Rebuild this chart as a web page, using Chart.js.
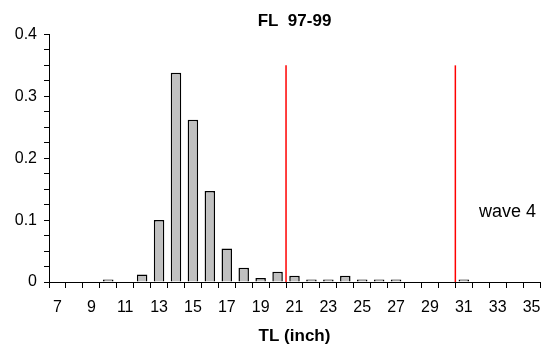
<!DOCTYPE html>
<html>
<head>
<meta charset="utf-8">
<script src="https://cdn.jsdelivr.net/npm/chart.js@4.4.1/dist/chart.umd.min.js"></script>
<style>
  html, body { margin: 0; padding: 0; background: #fff; }
  #wrap { width: 542px; height: 352px; }
</style>
</head>
<body>
<div id="wrap"><canvas id="histChart"></canvas></div>
<script>
const sizeLabels = ['7','8','9','10','11','12','13','14','15','16','17','18','19','20','21',
  '22','23','24','25','26','27','28','29','30','31','32','33','34','35'];
const freqValues = [0,0,0,0.004,0,0.012,0.100,0.338,0.262,0.147,0.054,0.023,0.0065,0.0165,0.010,
  0.004,0.004,0.010,0.004,0.004,0.004,0,0,0,0.004,0,0,0,0];
const cutPoints = [20.5, 30.5];   // wave boundaries (inch)
const cutTop = 0.35;
const waveLabel = 'wave 4';

Chart.defaults.font.family = "'Liberation Sans', Arial, sans-serif";
Chart.defaults.color = '#000';

const firstSize = Number(sizeLabels[0]);

// red cut lines + wave label
const cutLines = {
  id: 'cutLines',
  afterDatasetsDraw(chart) {
    const {ctx, scales: {x, y}} = chart;
    ctx.save();
    ctx.strokeStyle = '#ff0000';
    ctx.lineWidth = 1.5;
    cutPoints.forEach(c => {
      const px = x.getPixelForValue(c - firstSize);
      ctx.beginPath();
      ctx.moveTo(px, y.getPixelForValue(cutTop));
      ctx.lineTo(px, y.getPixelForValue(0));
      ctx.stroke();
    });
    ctx.fillStyle = '#000';
    ctx.font = "18px 'Liberation Sans', Arial, sans-serif";
    ctx.textBaseline = 'middle';
    ctx.fillText(waveLabel, x.getPixelForValue(31.9 - firstSize), y.getPixelForValue(0.113));
    ctx.restore();
  }
};

new Chart(document.getElementById('histChart'), {
  type: 'bar',
  data: {
    labels: sizeLabels,
    datasets: [{
      data: freqValues,
      backgroundColor: '#c0c0c0',
      borderColor: '#000',
      borderWidth: 1.5,
      borderSkipped: 'bottom',
      barPercentage: 0.62,
      categoryPercentage: 1
    }]
  },
  options: {
    responsive: true,
    maintainAspectRatio: false,
    animation: false,
    layout: {padding: {left: 0, right: 2, top: 0, bottom: 0}},
    plugins: {
      legend: {display: false},
      tooltip: {enabled: false},
      title: {
        display: true, fullSize: false, text: 'FL  97-99', color: '#000',
        font: {size: 17, weight: 'bold'},
        padding: {top: 11, bottom: 3}
      }
    },
    scales: {
      x: {
        offset: true,
        grid: {offset: true, drawOnChartArea: false, color: '#000', tickLength: 6},
        border: {color: '#000'},
        ticks: {
          autoSkip: false, maxRotation: 0, padding: 10,
          font: {size: 16},
          callback: (v, i) => (Number(sizeLabels[i]) % 2 === 1 ? sizeLabels[i] : '')
        },
        title: {
          display: true, text: 'TL (inch)', color: '#000',
          font: {size: 17, weight: 'bold'},
          padding: {top: 0, bottom: 5}
        },
        afterFit: s => { s.height = 70; s.paddingLeft = 0; s.paddingRight = 0; }
      },
      y: {
        min: 0, max: 0.4,
        grid: {drawOnChartArea: false, color: '#000', tickLength: 5},
        border: {color: '#000'},
        ticks: {
          stepSize: 0.025, autoSkip: false, padding: 7,
          font: {size: 16},
          callback: v => {
            const t = v * 10;
            if (Math.abs(t - Math.round(t)) > 1e-6) return '';
            return v === 0 ? '0' : v.toFixed(1);
          }
        },
        afterFit: s => { s.width = 49; s.paddingTop = 0; s.paddingBottom = 0; }
      }
    }
  },
  plugins: [cutLines]
});
</script>
</body>
</html>
